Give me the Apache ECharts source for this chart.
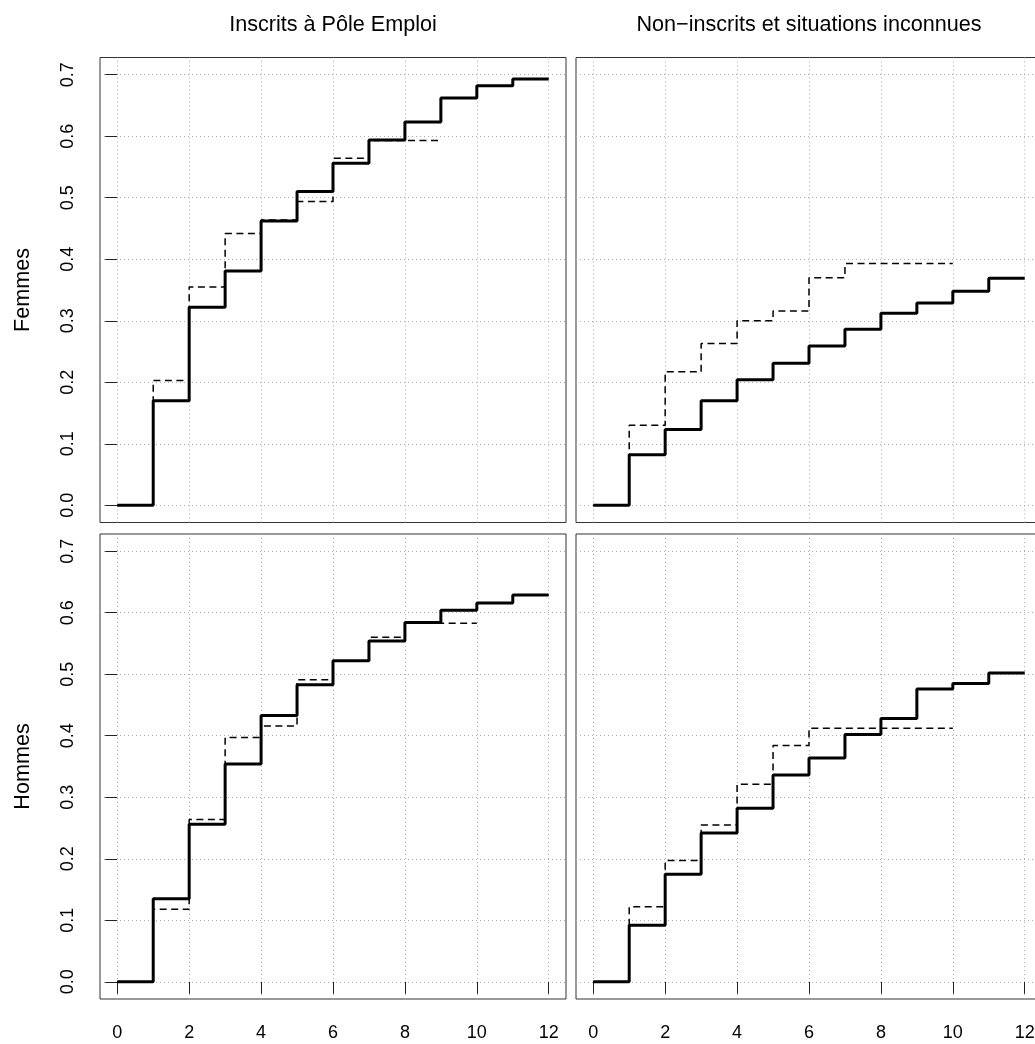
<!DOCTYPE html>
<html><head><meta charset="utf-8">
<script src="https://cdn.jsdelivr.net/npm/echarts@6/dist/echarts.min.js"></script>
<style>html,body{margin:0;padding:0;background:#fff}#c{width:1035px;height:1044px}</style>
</head><body><div id="c"></div>
<script>
// ---- data ----
const colTitles = ['Inscrits à Pôle Emploi', 'Non\u2212inscrits et situations inconnues'];
const rowTitles = ['Femmes', 'Hommes'];
const xTicks = [0, 2, 4, 6, 8, 10, 12];
const yTicks = [0, 0.1, 0.2, 0.3, 0.4, 0.5, 0.6, 0.7];
// step levels: value on month interval [i, i+1)
const femPoleSolid  = [0, 0.170, 0.322, 0.381, 0.462, 0.510, 0.556, 0.594, 0.623, 0.662, 0.682, 0.693];
const femPoleDashed = [0, 0.203, 0.355, 0.442, 0.464, 0.494, 0.564, 0.593, 0.593];
const femNonSolid   = [0, 0.082, 0.123, 0.170, 0.204, 0.231, 0.259, 0.286, 0.312, 0.329, 0.348, 0.369];
const femNonDashed  = [0, 0.130, 0.217, 0.263, 0.300, 0.316, 0.370, 0.393, 0.393, 0.393];
const homPoleSolid  = [0, 0.135, 0.256, 0.354, 0.433, 0.483, 0.522, 0.554, 0.584, 0.604, 0.616, 0.629];
const homPoleDashed = [0, 0.118, 0.264, 0.397, 0.416, 0.491, 0.522, 0.560, 0.583, 0.583];
const homNonSolid   = [0, 0.092, 0.175, 0.242, 0.282, 0.336, 0.364, 0.402, 0.428, 0.476, 0.485, 0.502];
const homNonDashed  = [0, 0.122, 0.197, 0.255, 0.321, 0.384, 0.412, 0.412, 0.412, 0.412];

const panels = [
  {solid: femPoleSolid, dashed: femPoleDashed, row: 0, col: 0},
  {solid: femNonSolid,  dashed: femNonDashed,  row: 0, col: 1},
  {solid: homPoleSolid, dashed: homPoleDashed, row: 1, col: 0},
  {solid: homNonSolid,  dashed: homNonDashed,  row: 1, col: 1}
];

// ---- layout ----
const FONT = '"Liberation Sans", Arial, Helvetica, sans-serif';
const colLeft = [100, 576], rowTop = [57.5, 534], PW = 466, PH = 465;
const X_MIN = -0.48, X_MAX = 12.48, Y_MIN = -0.028, Y_MAX = 0.728;

function stepData(levels) {
  const d = levels.map((v, i) => [i, v]);
  d.push([levels.length, levels[levels.length - 1]]);
  return d;
}

const grid = [], xAxis = [], yAxis = [], series = [];
const gridLine = {show: true, lineStyle: {color: '#ababab', width: 1, type: [1, 3]}};
panels.forEach((p, k) => {
  grid.push({left: colLeft[p.col], top: rowTop[p.row], width: PW, height: PH,
    show: true, borderColor: '#333', borderWidth: 1, backgroundColor: 'transparent',
    containLabel: false, outerBoundsMode: 'none'});
  const bottom = p.row === 1, left = p.col === 0;
  xAxis.push({type: 'value', gridIndex: k, min: X_MIN, max: X_MAX, position: 'bottom',
    axisLine: {show: false},
    axisTick: {show: bottom, customValues: xTicks, length: 12, lineStyle: {color: '#222', width: 1}},
    axisLabel: {show: bottom, customValues: xTicks, margin: 25, fontSize: 18, color: '#000', fontFamily: FONT,
      formatter: v => String(Math.round(v))},
    splitLine: gridLine});
  yAxis.push({type: 'value', gridIndex: k, min: Y_MIN, max: Y_MAX, position: 'left',
    axisLine: {show: false},
    axisTick: {show: left, customValues: yTicks, length: 12, lineStyle: {color: '#222', width: 1}},
    axisLabel: {show: left, customValues: yTicks, rotate: 90, margin: 23, fontSize: 18, color: '#000', fontFamily: FONT,
      formatter: v => v.toFixed(1)},
    splitLine: gridLine});
  series.push({type: 'line', xAxisIndex: k, yAxisIndex: k, step: 'end', symbol: 'none', silent: true,
    data: stepData(p.dashed), lineStyle: {color: '#000', width: 1.5, type: [7, 4.5]}, z: 3});
  series.push({type: 'line', xAxisIndex: k, yAxisIndex: k, step: 'end', symbol: 'none', silent: true,
    data: stepData(p.solid), lineStyle: {color: '#000', width: 3, type: 'solid'}, z: 4});
});

const graphic = [];
colTitles.forEach((t, c) => graphic.push({type: 'text', x: colLeft[c] + PW / 2, y: 25,
  style: {text: t, font: '21.6px ' + FONT, fill: '#000', textAlign: 'center', textVerticalAlign: 'middle'}}));
rowTitles.forEach((t, r) => graphic.push({type: 'text', x: 23, y: rowTop[r] + PH / 2, rotation: Math.PI / 2,
  style: {text: t, font: '21.6px ' + FONT, fill: '#000', textAlign: 'center', textVerticalAlign: 'middle'}}));

const chart = echarts.init(document.getElementById('c'), null, {renderer: 'canvas'});
chart.setOption({animation: false, backgroundColor: '#fff', grid, xAxis, yAxis, series, graphic});
</script></body></html>
